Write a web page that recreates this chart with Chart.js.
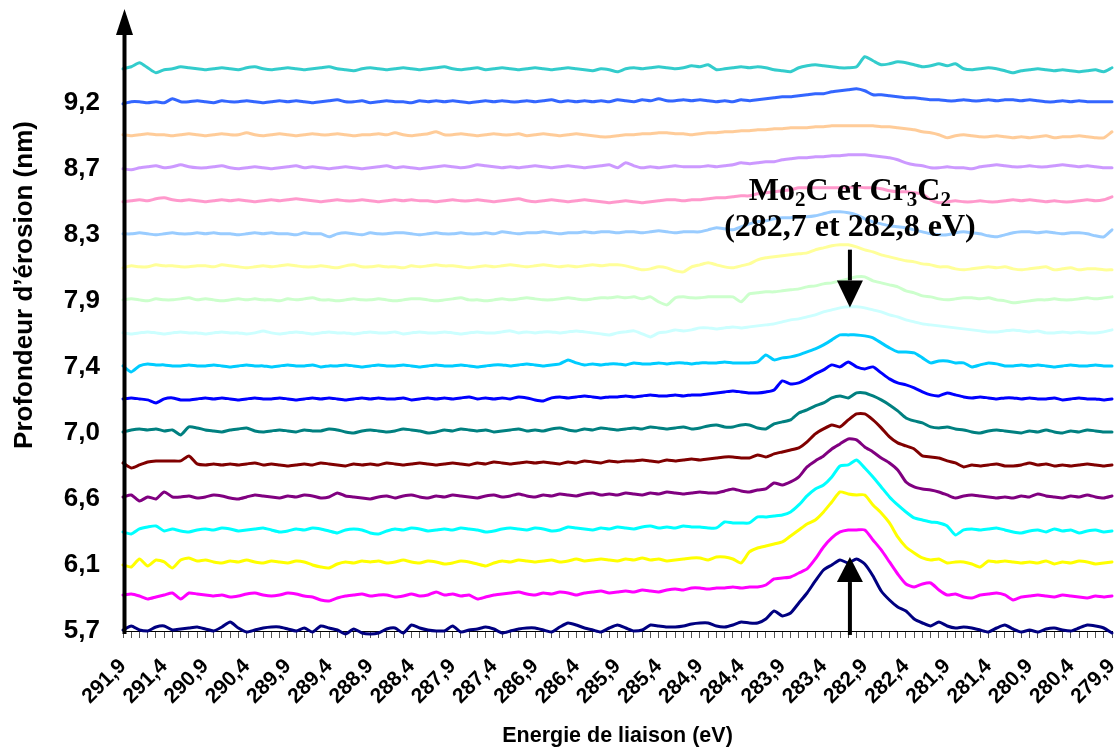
<!DOCTYPE html>
<html><head><meta charset="utf-8">
<script src="https://cdn.jsdelivr.net/npm/chart.js@4.4.1/dist/chart.umd.min.js"></script>
<style>html,body{margin:0;padding:0;background:#fff;overflow:hidden}#wrap{width:1117px;height:749px}</style>
</head><body><div id="wrap"><canvas id="c" width="1117" height="749"></canvas></div>
<script>
// Binding energy categories (eV), left to right
const energies = [291.9,291.8,291.7,291.6,291.5,291.4,291.3,291.2,291.1,291.0,
290.9,290.8,290.7,290.6,290.5,290.4,290.3,290.2,290.1,290.0,
289.9,289.8,289.7,289.6,289.5,289.4,289.3,289.2,289.1,289.0,
288.9,288.8,288.7,288.6,288.5,288.4,288.3,288.2,288.1,288.0,
287.9,287.8,287.7,287.6,287.5,287.4,287.3,287.2,287.1,287.0,
286.9,286.8,286.7,286.6,286.5,286.4,286.3,286.2,286.1,286.0,
285.9,285.8,285.7,285.6,285.5,285.4,285.3,285.2,285.1,285.0,
284.9,284.8,284.7,284.6,284.5,284.4,284.3,284.2,284.1,284.0,
283.9,283.8,283.7,283.6,283.5,283.4,283.3,283.2,283.1,283.0,
282.9,282.8,282.7,282.6,282.5,282.4,282.3,282.2,282.1,282.0,
281.9,281.8,281.7,281.6,281.5,281.4,281.3,281.2,281.1,281.0,
280.9,280.8,280.7,280.6,280.5,280.4,280.3,280.2,280.1,280.0,
279.9];
const xTickLabels = ['291,9','291,4','290,9','290,4','289,9','289,4','288,9','288,4','287,9','287,4','286,9','286,4','285,9','285,4','284,9','284,4','283,9','283,4','282,9','282,4','281,9','281,4','280,9','280,4','279,9'];
const yTickValues = [0,2,4,6,8,10,12,14,16];
const yTickLabels = ['5,7','6,1','6,6','7,0','7,4','7,9','8,3','8,7','9,2'];

// C1s signal (arbitrary counts) of each spectrum, bottom (5,7 nm) to top
const curve00 = [1,5,1,0,4,5,1,2,3,4, 2,0,4,9,3,-1,1,3,4,4, 2,0,3,-1,5,3,1,-3,2,-2, -3,-2,2,3,-2,6,3,1,0,0, 5,-1,1,2,4,2,-2,0,2,3, 3,1,-1,4,8,6,3,1,-1,3, 6,3,0,1,6,5,4,4,5,7, 8,8,5,4,6,9,8,8,12,20, 15,18,28,38,50,61,66,71,68,72, 67,55,40,31,24,20,12,8,5,9, 5,3,4,3,1,-1,3,6,2,-1, 1,-1,2,3,1,0,3,6,5,3,-2];
const curve01 = [3,4,2,-1,1,3,5,-1,5,4, 3,2,3,1,2,4,5,3,2,3, 5,4,2,1,-2,-3,0,2,3,4, 2,3,3,1,2,4,2,3,6,3, 4,2,3,-1,1,3,4,5,6,4, 3,5,4,6,5,3,5,6,7,5, 6,7,6,8,7,6,8,9,8,10, 10,9,10,10,11,10,11,11,13,19, 20,21,25,29,39,51,60,66,68,68, 68,58,48,36,24,14,11,14,15,8, 3,4,1,0,3,4,5,3,-2,1, 2,3,2,1,3,2,1,0,2,1,2];
const curve02 = [0,-2,6,-1,5,3,-3,5,7,4, 5,3,2,4,3,5,3,2,4,3, 2,4,3,0,-2,-3,1,3,2,4, 3,4,2,3,5,3,2,4,3,1, 2,4,3,1,-1,2,4,3,5,4, 3,4,5,3,4,6,4,5,6,5, 4,6,5,7,5,6,4,5,6,7, 7,5,8,8,6,2,13,17,19,21, 23,29,35,41,45,53,63,73,71,70, 70,60,52,42,28,18,12,7,5,6, 2,3,3,1,-2,4,3,4,3,2, 3,2,4,1,3,2,4,3,1,2,3];
const curve03 = [0,-2,3,5,6,1,3,1,0,2, 3,2,4,3,1,2,3,4,2,0, 1,3,2,4,3,1,-1,2,3,2, -1,-2,1,3,2,4,3,1,2,3, 2,4,3,2,0,1,3,4,3,2, 4,3,1,2,5,4,3,2,4,3, 5,4,3,5,6,4,5,4,6,5, 5,4,4,10,9,9,9,15,15,16, 17,20,27,36,43,47,55,66,67,72, 64,55,45,35,27,20,14,12,10,9, 6,-3,2,3,2,3,4,2,0,-1, 1,2,0,3,1,2,-1,1,2,0,1];
const curve04 = [2,4,-2,2,0,7,2,2,3,1, 2,4,3,1,0,2,4,3,2,1, 3,2,4,3,1,2,6,3,2,1, 0,2,3,1,3,4,2,1,3,2, 4,3,2,1,3,4,2,3,5,3, 2,4,3,5,4,3,5,6,4,5, 4,6,5,4,6,5,7,6,5,6, 7,6,6,8,10,8,7,9,10,16, 14,17,22,32,38,43,50,55,60,59, 52,47,41,36,29,17,12,10,9,7, 4,1,3,4,3,2,1,2,1,3, 2,5,3,2,1,3,2,4,2,1,3];
const curve05 = [3,-2,1,4,5,5,5,5,10,2, 1,2,1,2,1,2,3,1,2,1, 0,1,2,1,3,2,1,0,2,1, 2,1,3,2,1,2,3,2,1,2, 3,2,1,3,2,4,3,2,3,4, 3,4,3,2,4,3,5,4,3,5, 4,5,5,6,5,4,6,5,6,7, 6,7,8,9,9,8,8,11,9,12, 14,16,18,24,32,37,41,39,46,52, 52,46,38,29,23,20,17,10,9,8, 5,3,-1,1,0,1,2,0,0,1, 3,1,2,0,1,0,1,2,1,0,1];
const curve06 = [1,3,4,3,4,2,3,-2,6,5, 3,2,1,3,4,5,2,1,2,3, 2,1,3,2,2,4,3,1,0,2, 3,2,1,2,4,3,2,0,1,3, 2,4,3,2,3,1,2,3,4,2, 3,2,4,5,3,2,4,3,5,4, 3,4,5,4,6,5,4,5,6,4, 5,7,8,6,6,8,8,5,4,9, 11,13,20,23,27,30,35,37,35,40, 40,37,33,28,22,15,12,10,6,5, 6,4,3,1,0,2,3,2,1,0, 2,1,3,1,0,2,1,3,2,1,1];
const curve07 = [1,2,1,0,-3,1,2,0,0,1, 2,1,2,1,0,1,2,1,1,2, 1,0,1,2,1,2,1,0,1,2, 1,2,1,1,2,0,1,2,1,2, 1,2,3,1,2,1,2,1,3,2, 0,-1,2,3,2,3,4,3,2,3, 3,4,3,4,5,4,4,5,4,5, 5,6,7,8,9,8,7,7,8,10, 19,16,17,21,26,30,35,33,38,33, 31,33,27,21,17,15,12,8,5,4, 7,5,3,2,3,2,1,2,2,1, 2,1,1,2,0,1,2,1,1,0,1];
const curve08 = [1,-5,1,3,2,2,1,1,2,1, 1,2,1,0,1,2,1,1,0,1, 2,1,1,2,0,1,1,2,1,0, 1,2,1,1,2,1,0,1,2,1, 1,2,1,0,1,2,2,1,2,3, 2,1,2,3,7,4,2,3,2,3, 3,2,4,3,3,4,3,4,4,3, 4,4,4,5,4,4,4,5,12,7, 9,10,12,15,18,22,27,32,32,32, 31,29,24,19,15,15,14,9,4,6, 6,4,4,0,2,4,3,1,1,2, 1,2,1,0,1,2,1,1,2,1,1];
const curve09 = [1,0,1,2,1,0,1,2,1,1, 0,1,2,1,1,0,1,3,1,0, 1,2,1,0,1,2,1,1,0,1, 2,1,1,2,0,1,2,1,1,2, 1,0,1,2,1,1,2,3,1,2, 1,2,2,1,2,3,2,1,0,-1, 1,2,3,0,-3,1,2,4,3,4, 6,6,5,6,7,6,7,8,9,10, 12,14,15,17,19,22,24,26,27,27, 26,24,22,19,17,14,12,10,9,8, 7,6,5,4,3,2,2,3,4,3, 2,3,1,1,2,1,2,1,1,2,4];
const curve10 = [1,2,1,0,2,1,1,2,3,1, 2,1,0,1,2,1,2,1,1,0, 2,1,2,3,1,1,0,1,2,1, 1,2,1,0,1,2,2,1,0,1, 2,3,1,1,0,1,2,1,2,3, 2,1,1,2,3,2,1,2,3,3, 4,3,4,2,4,-1,-4,3,4,3, 3,4,4,4,4,-1,7,8,9,9, 10,11,12,14,15,17,18,20,22,24, 24,20,18,16,14,10,8,5,4,2, 1,2,3,3,2,3,1,0,-2,-1, 0,1,1,2,1,1,2,3,2,3,4];
const curve11 = [0,2,1,1,3,2,2,1,1,2, 2,1,3,2,1,0,1,2,1,2, 3,2,1,1,2,1,0,2,3,1, 1,2,1,1,0,2,1,2,3,2, 2,1,0,1,2,1,2,3,2,1, 2,3,2,1,2,1,2,3,2,3, 3,2,0,-2,-1,1,0,-3,-4,1, 3,5,3,1,0,2,4,8,10,11, 12,13,14,15,18,20,22,23,23,21, 18,16,13,11,9,7,6,4,3,1, 1,-1,-2,-1,0,1,0,1,-1,-2, -1,0,1,-2,-1,0,-2,-1,-1,-2,-2];
const curve12 = [1,1,2,1,0,1,2,1,1,2, 1,2,1,1,0,1,2,1,2,1, 1,0,2,1,1,-2,1,2,1,0, 2,1,1,2,2,1,0,1,2,1, 1,2,1,1,2,1,3,2,1,2, 2,3,2,1,2,2,3,2,3,3, 2,3,3,2,3,4,3,2,3,3, 3,5,7,6,5,8,11,13,14,16, 17,17,18,18,19,21,23,23,22,20, 16,13,11,9,8,7,5,3,1,0, 0,2,3,2,1,-1,-2,0,2,3, 3,2,3,2,1,2,2,1,-1,-2,5];
const curve13 = [0,1,2,1,3,4,2,1,2,1, 0,1,2,1,2,1,0,1,2,1, 2,3,2,1,0,1,2,1,1,2, 1,0,1,2,1,2,1,1,0,1, 2,1,1,2,1,0,1,2,3,1, 0,1,2,1,0,1,2,1,0,-1, 0,1,0,-1,0,1,2,2,1,2, 2,3,4,4,5,6,6,8,9,10, 11,12,14,14,14,14,14,14,14,15, 14,14,13,11,10,10,9,8,2,-1, 0,1,0,0,1,0,0,1,2,1, 2,1,0,1,0,0,1,2,1,2,5];
const curve14 = [0,-1,1,2,3,1,2,4,2,1, 1,2,3,1,0,1,2,1,0,1, 2,3,1,2,1,0,1,2,1,0, 1,2,3,1,2,1,0,1,2,3, 2,1,2,4,3,2,1,2,1,2, 3,2,1,2,3,2,1,2,3,4, 1,6,3,1,2,1,2,3,2,2, 2,3,2,3,4,6,5,6,7,7, 9,10,11,11,12,12,13,13,14,14, 14,13,12,11,9,6,4,3,1,1, 2,1,1,0,2,3,4,3,2,2, 3,2,2,3,4,3,2,3,2,1,1];
const curve15 = [1,0,1,2,1,1,0,1,2,1, 0,1,2,1,1,3,1,0,1,2, 1,0,1,2,1,1,2,1,0,1, 1,2,1,3,1,0,1,2,4,1, 1,2,1,0,1,2,1,1,2,0, 1,2,1,0,1,2,1,0,-1,-1, 0,1,1,2,2,3,3,2,2,1, 2,3,3,4,4,5,5,6,6,7, 7,8,8,8,9,9,10,10,10,10, 10,10,9,9,8,7,6,4,3,1, -2,0,1,0,-1,-1,0,-1,-2,-1, -2,-1,0,-2,-1,-1,0,-1,-2,-2,4];
const curve16 = [-1,1,1,0,1,0,4,1,1,2, 1,0,2,1,1,2,1,0,1,2, 1,2,1,0,1,2,3,1,1,2, 0,1,2,1,1,0,2,1,2,1, 2,1,0,1,2,1,2,1,1,2, 1,2,3,1,2,1,2,1,2,1, 3,2,1,3,2,4,2,2,3,2, 3,2,1,2,1,3,2,3,4,5, 6,6,7,8,9,9,11,12,13,14, 12,8,8,7,6,5,5,4,3,3, 2,2,3,2,2,3,2,3,3,2, 3,2,1,1,2,1,2,1,1,1,1];
const curve17 = [1,3,7,2,-3,0,1,3,2,1, 0,1,2,1,0,2,3,1,0,1, 2,1,0,1,2,3,1,0,-1,1, 2,1,0,1,2,1,0,1,2,3, 1,0,1,2,0,1,2,1,0,1, 2,1,0,1,2,1,0,-1,1,0, -2,1,2,1,2,3,2,1,2,4, 3,5,0,1,2,3,2,3,2,0, -1,-2,2,4,5,4,3,2,2,3, 13,9,5,6,8,7,5,3,4,6, 4,6,1,0,1,2,1,-1,-3,-1, 0,1,0,-1,0,-1,-2,-1,0,-2,2];

const curves = [curve00,curve01,curve02,curve03,curve04,curve05,curve06,curve07,curve08,curve09,curve10,curve11,curve12,curve13,curve14,curve15,curve16,curve17];
const curveColors = ['#000080','#FF00FF','#FFFF00','#00FFFF','#800080','#800000','#008080','#0000FF','#00CCFF','#CCFFFF','#CCFFCC','#FFFF99','#99CCFF','#FF99CC','#CC99FF','#FFCC99','#3366FF','#33CCCC'];
const countsPerStep = 33;   // vertical stacking: one curve step = 33 counts
const peakIndex = 88.2;     // marked peak position on the category axis (~283,1 eV)

const datasets = curves.map((c, k) => ({
  data: c.map(v => k + v / countsPerStep),
  borderColor: curveColors[k],
  borderWidth: 3,
  pointRadius: 0,
  tension: 0.2,
  fill: false,
  clip: false,
  borderJoinStyle: 'round',
  borderCapStyle: 'round'
}));

function drawArrow(ctx, x, yTail, yTip, headLen, headHalf, width) {
  const dir = Math.sign(yTip - yTail);
  ctx.lineWidth = width;
  ctx.beginPath(); ctx.moveTo(x, yTail); ctx.lineTo(x, yTip - dir * headLen); ctx.stroke();
  ctx.beginPath(); ctx.moveTo(x, yTip); ctx.lineTo(x - headHalf, yTip - dir * headLen); ctx.lineTo(x + headHalf, yTip - dir * headLen); ctx.closePath(); ctx.fill();
}
function drawRich(ctx, parts, cx, baseline) {
  const big = 'bold 32px "Liberation Serif", "Times New Roman", serif';
  const small = 'bold 21px "Liberation Serif", "Times New Roman", serif';
  let w = 0;
  parts.forEach(p => { ctx.font = p[1] ? small : big; w += ctx.measureText(p[0]).width; });
  let x = cx - w / 2;
  ctx.textAlign = 'left'; ctx.textBaseline = 'alphabetic';
  parts.forEach(p => { ctx.font = p[1] ? small : big; ctx.fillText(p[0], x, baseline + (p[1] ? 6 : 0)); x += ctx.measureText(p[0]).width; });
}

const overlay = {
  id: 'overlay',
  afterDatasetsDraw(chart) {
    const {ctx, chartArea, scales: {x, y}} = chart;
    ctx.save();
    ctx.strokeStyle = '#000'; ctx.fillStyle = '#000';
    // vertical axis with arrow
    drawArrow(ctx, chartArea.left + 1.5, chartArea.bottom + 3, 9, 26, 8.5, 4);
    // peak arrows
    const px = x.getPixelForValue(peakIndex);
    drawArrow(ctx, px, y.getPixelForValue(-0.12), y.getPixelForValue(2.24), 25, 13, 4);
    drawArrow(ctx, px, y.getPixelForValue(11.55), y.getPixelForValue(9.8), 27, 13, 4);
    // annotation
    drawRich(ctx, [['Mo', false], ['2', true], ['C et Cr', false], ['3', true], ['C', false], ['2', true]], px, y.getPixelForValue(13.06));
    drawRich(ctx, [['(282,7 et 282,8 eV)', false]], px, y.getPixelForValue(11.97));
    // y title
    ctx.save();
    ctx.translate(25, 285); ctx.rotate(-Math.PI / 2);
    ctx.font = 'bold 26px "Liberation Sans", Arial, sans-serif';
    ctx.textAlign = 'center'; ctx.textBaseline = 'middle';
    ctx.fillText('Profondeur d\u2019érosion (nm)', 0, 0);
    ctx.restore();
    ctx.restore();
  }
};

const sans = '"Liberation Sans", Arial, sans-serif';
new Chart(document.getElementById('c'), {
  type: 'line',
  data: { labels: energies.map(e => e.toFixed(1).replace('.', ',')), datasets },
  options: {
    responsive: false, animation: false, devicePixelRatio: 1,
    layout: { padding: { left: 0, right: 5, top: 12, bottom: 0 } },
    plugins: { legend: { display: false }, tooltip: { enabled: false } },
    scales: {
      x: {
        type: 'category', offset: false,
        grid: { display: true, drawOnChartArea: false, drawTicks: true, tickLength: 7, color: '#555', lineWidth: 1 },
        border: { display: true, color: '#000', width: 1 },
        ticks: {
          autoSkip: false, maxRotation: 45, minRotation: 45, padding: 16, color: '#000',
          font: { family: sans, size: 21, weight: 'bold' },
          callback: (v, i) => { const l = energies[i].toFixed(1).replace('.', ','); return xTickLabels.includes(l) ? l : ''; }
        },
        title: { display: true, text: 'Energie de liaison (eV)', color: '#000', font: { family: sans, size: 21.5, weight: 'bold' }, padding: { top: 0, bottom: 0 } },
        afterFit(s) { s.height = 118; s.paddingLeft = 0; s.paddingRight = 0; }
      },
      y: {
        type: 'linear', min: 0, max: 18.75,
        grid: { display: false, drawTicks: false },
        border: { display: false },
        afterBuildTicks(s) { s.ticks = yTickValues.map(v => ({ value: v })); },
        ticks: { padding: 23, color: '#000', font: { family: sans, size: 26, weight: 'bold' },
          callback: (v, i) => yTickLabels[i] },
        afterFit(s) { s.width = 123; s.paddingTop = 0; s.paddingBottom = 0; }
      }
    }
  },
  plugins: [overlay]
});
</script></body></html>
